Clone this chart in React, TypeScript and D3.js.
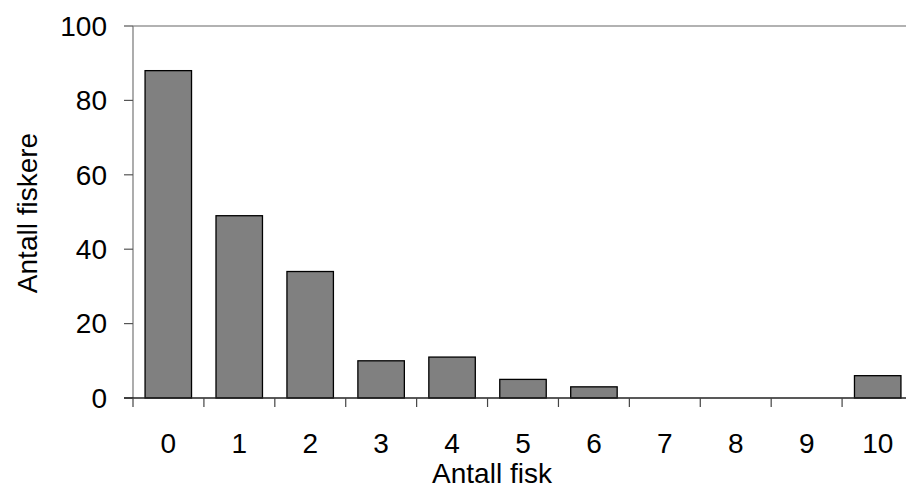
import React from "react";
import * as d3 from "d3";

const categories = ["0", "1", "2", "3", "4", "5", "6", "7", "8", "9", "10"];
const values = [88, 49, 34, 10, 11, 5, 3, 0, 0, 0, 6];
const yTicks = [0, 20, 40, 60, 80, 100];

export default function App() {
  const W = 906, H = 488;
  const left = 133, right = 913, top = 26, bottom = 398;
  const x = d3.scaleBand<string>().domain(categories).range([left, right]).paddingInner(0.345).paddingOuter(0.17);
  const step = (right - left) / categories.length;
  const y = d3.scaleLinear().domain([0, 100]).range([bottom, top]);
  const font = "'Liberation Sans', Arial, sans-serif";
  return (
    <svg width={W} height={H} style={{ position: "absolute", left: 0, top: 0 }} fontFamily={font}>
      <rect width={W} height={H} fill="#fff" />
      <line x1={left} x2={W} y1={top} y2={top} stroke="#999" strokeWidth={1.5} />
      {values.map((v, i) => (
        v > 0 ? (
          <rect key={i} x={x(categories[i])} y={y(v)} width={x.bandwidth()} height={y(0) - y(v)}
            fill="#808080" stroke="#000" strokeWidth={1.3} />
        ) : null
      ))}
      <line x1={left} x2={left} y1={top} y2={bottom} stroke="#808080" strokeWidth={1.3} />
      {yTicks.map(t => (
        <g key={t}>
          <line x1={left - 9} x2={left} y1={y(t)} y2={y(t)} stroke="#555" strokeWidth={1.2} />
          <text x={left - 26} y={y(t)} dy="0.35em" textAnchor="end" fontSize={28} fill="#000">{t}</text>
        </g>
      ))}
      <line x1={left - 9} x2={W} y1={bottom} y2={bottom} stroke="#222" strokeWidth={1.3} />
      {d3.range(categories.length + 1).map(i => (
        <line key={i} x1={left + i * step} x2={left + i * step} y1={bottom} y2={bottom + 9} stroke="#444" strokeWidth={1.2} />
      ))}
      {categories.map(c => (
        <text key={c} x={x(c)! + x.bandwidth() / 2} y={453} textAnchor="middle" fontSize={28} fill="#000">{c}</text>
      ))}
      <text x={492} y={483} textAnchor="middle" fontSize={28} fill="#000">Antall fisk</text>
      <text transform={`translate(37,${(top + bottom) / 2 + 1}) rotate(-90)`} textAnchor="middle" fontSize={28} fill="#000">Antall fiskere</text>
    </svg>
  );
}
